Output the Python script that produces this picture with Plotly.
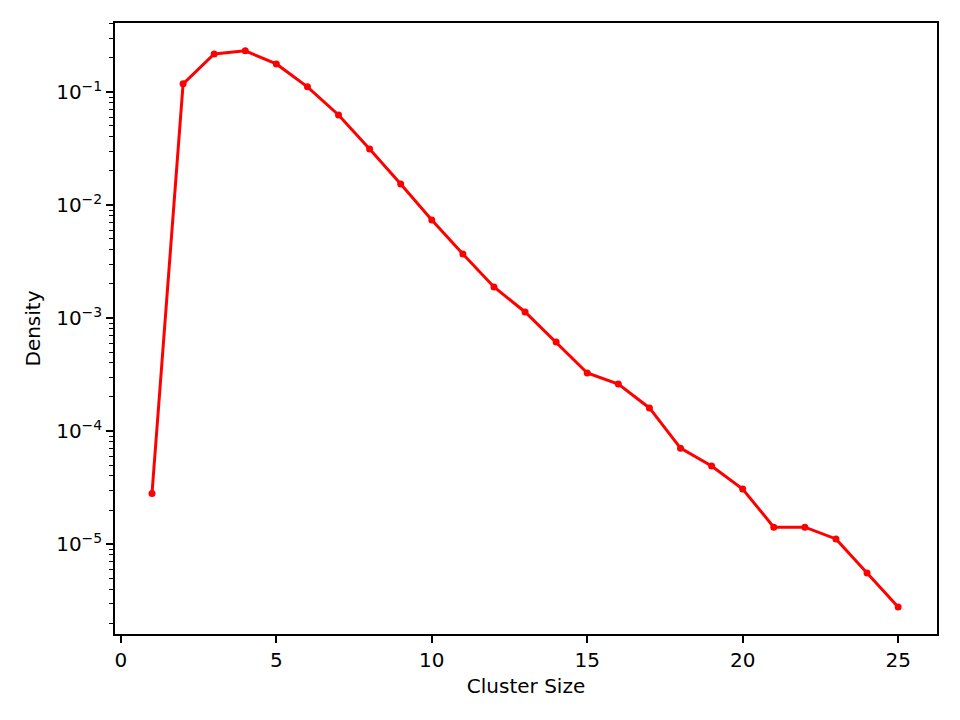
import plotly.graph_objects as go

cluster_size = list(range(1, 26))
density = [2.8e-5, 0.118, 0.217, 0.231, 0.177, 0.111, 0.0625, 0.0313, 0.0153, 0.00736,
           0.00368, 0.00188, 0.00113, 0.000613, 0.000326, 0.000260, 0.000160, 7.05e-5,
           4.9e-5, 3.07e-5, 1.41e-5, 1.41e-5, 1.11e-5, 5.53e-6, 2.77e-6]

x_ticks = [0, 5, 10, 15, 20, 25]
y_exps = [-5, -4, -3, -2, -1]
y_tickvals = [10.0 ** e for e in y_exps]
y_ticktext = ["10<sup>\u2212%d</sup>" % (-e) for e in y_exps]
minor_vals = [m * 10.0 ** e for e in range(-7, 1) for m in range(2, 10)]

fig = go.Figure()
fig.add_trace(go.Scatter(
    x=cluster_size, y=density, mode="lines+markers",
    line=dict(color="#ff0000", width=3),
    marker=dict(color="#ff0000", size=7),
    showlegend=False,
))

font = dict(family="DejaVu Sans", size=20, color="black")
fig.update_layout(
    width=952, height=712,
    margin=dict(l=107, r=23, t=15, b=86),
    paper_bgcolor="white", plot_bgcolor="white",
    font=font,
    xaxis=dict(
        range=[-0.19, 26.25], tickvals=x_ticks, ticks="outside", ticklen=7,
        tickwidth=1.5, tickcolor="black", showline=True, linecolor="black",
        linewidth=1.5, mirror=True, showgrid=False, zeroline=False,
        title=dict(text="Cluster Size", font=font, standoff=8),
    ),
    yaxis=dict(
        type="log", range=[-5.796, -0.39], tickvals=y_tickvals, ticktext=y_ticktext,
        ticks="outside", ticklen=7, tickwidth=1.5, tickcolor="black",
        showline=True, linecolor="black", linewidth=1.5, mirror=True,
        showgrid=False, zeroline=False,
        minor=dict(tickvals=minor_vals, ticks="outside", ticklen=4,
                   tickwidth=1.2, tickcolor="black", showgrid=False),
        title=dict(text="Density", font=font, standoff=10),
    ),
)

fig.write_html("out.html")
